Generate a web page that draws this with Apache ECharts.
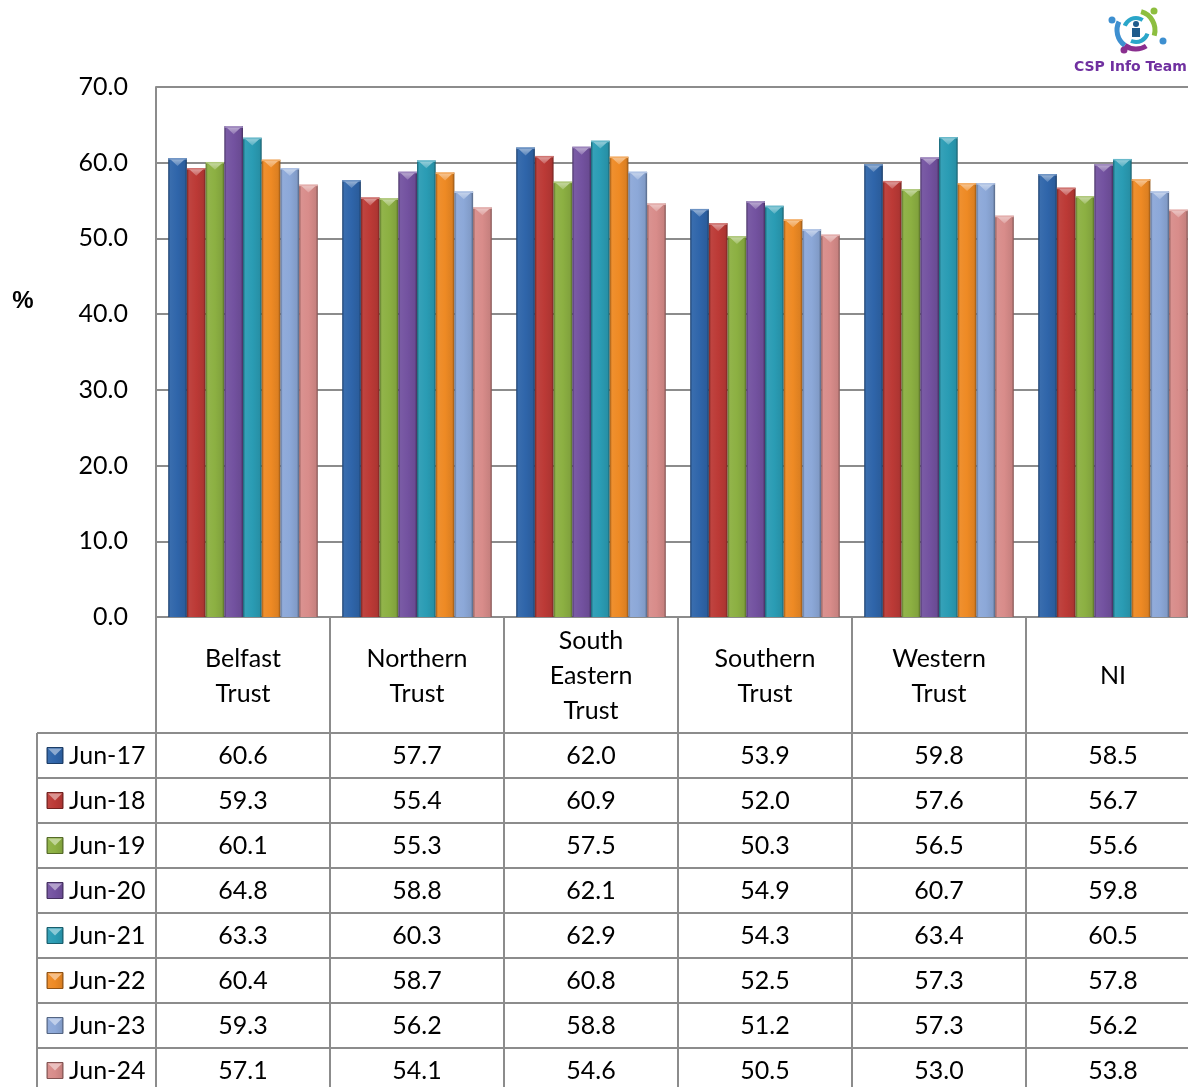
<!DOCTYPE html>
<html><head><meta charset="utf-8">
<script src="https://cdn.jsdelivr.net/npm/echarts@6/dist/echarts.min.js"></script>
<style>html,body{margin:0;padding:0;overflow:hidden;background:#fff}#c{width:1200px;height:1087px}</style>
</head><body><div id="c"></div>
<script>
const categories = ['Belfast\nTrust','Northern\nTrust','South\nEastern\nTrust','Southern\nTrust','Western\nTrust','NI'];
const periods = ['Jun-17','Jun-18','Jun-19','Jun-20','Jun-21','Jun-22','Jun-23','Jun-24'];
const jun17 = [60.6, 57.7, 62.0, 53.9, 59.8, 58.5];
const jun18 = [59.3, 55.4, 60.9, 52.0, 57.6, 56.7];
const jun19 = [60.1, 55.3, 57.5, 50.3, 56.5, 55.6];
const jun20 = [64.8, 58.8, 62.1, 54.9, 60.7, 59.8];
const jun21 = [63.3, 60.3, 62.9, 54.3, 63.4, 60.5];
const jun22 = [60.4, 58.7, 60.8, 52.5, 57.3, 57.8];
const jun23 = [59.3, 56.2, 58.8, 51.2, 57.3, 56.2];
const jun24 = [57.1, 54.1, 54.6, 50.5, 53.0, 53.8];
const seriesValues = [jun17, jun18, jun19, jun20, jun21, jun22, jun23, jun24];
const colors = ['#2F65AA','#BC3A36','#8CB042','#7352A0','#2A9CB4','#EE8A24','#8CA8D8','#D88C8A'];

function shade(hex, f){
  let r=parseInt(hex.substr(1,2),16),g=parseInt(hex.substr(3,2),16),b=parseInt(hex.substr(5,2),16);
  if(f>=0){r=r+(255-r)*f;g=g+(255-g)*f;b=b+(255-b)*f;}else{r=r*(1+f);g=g*(1+f);b=b*(1+f);}
  return 'rgb('+Math.round(r)+','+Math.round(g)+','+Math.round(b)+')';
}
const N = periods.length;
const GAPFRAC = 0.86;

function barGrad(c){
  return new echarts.graphic.LinearGradient(0,0,1,0,[
    {offset:0,color:shade(c,-0.35)},{offset:0.12,color:shade(c,0.05)},
    {offset:0.5,color:c},{offset:0.88,color:shade(c,-0.08)},{offset:1,color:shade(c,-0.4)}]);
}

function renderItem(params, api){
  const si = params.seriesIndex;
  const ci = api.value(0), v = api.value(1);
  const base = api.coord([ci, 0]);
  const top = api.coord([ci, v]);
  const cw = api.size([1,0])[0];
  const bw = cw*GAPFRAC/N;
  const x = base[0] - cw*GAPFRAC/2 + si*bw;
  const c = colors[si];
  const th = Math.min(bw*0.42, base[1]-top[1]);
  return {type:'group', children:[
    {type:'rect', shape:{x:x, y:top[1], width:bw, height:base[1]-top[1]},
     style:{fill:barGrad(c), shadowBlur:3, shadowColor:'rgba(0,0,0,0.25)', shadowOffsetX:1.5}},
    {type:'polygon', shape:{points:[[x+1,top[1]],[x+bw-1,top[1]],[x+bw/2,top[1]+th]]},
     style:{fill:new echarts.graphic.LinearGradient(0,0,0,1,[{offset:0,color:shade(c,0.55)},{offset:1,color:shade(c,0.2)}])}},
    {type:'rect', shape:{x:x, y:top[1], width:bw, height:1.5}, style:{fill:shade(c,0.3)}}
  ]};
}

const chart = echarts.init(document.getElementById('c'));
const FONT = 'Lato';
const series = seriesValues.map((vals, si) => ({
  type:'custom', name:periods[si], renderItem:renderItem,
  encode:{x:0,y:1},
  data: vals.map((v,i)=>[i,v])
}));

chart.setOption({
  animation:false,
  grid:{left:156, right:0, top:87, bottom:470, containLabel:false},
  xAxis:{type:'category', data:categories,
    axisLine:{show:true, lineStyle:{color:'#8c8c8c', width:2}},
    axisTick:{show:false}, axisLabel:{show:false}, splitLine:{show:false}},
  yAxis:{type:'value', min:0, max:70, interval:10,
    axisLine:{show:true, lineStyle:{color:'#8c8c8c', width:2}},
    axisTick:{show:false},
    axisLabel:{margin:28, fontSize:25, color:'#000', fontFamily:FONT, formatter:v=>v.toFixed(1)},
    splitLine:{lineStyle:{color:'#8c8c8c', width:2}}},
  series: series
});

// Build data table under the axis
const g = [];
const LINE = {stroke:'#8c8c8c', lineWidth:2};
const y0 = chart.convertToPixel({yAxisIndex:0}, 0);
const plotRight = 1200;
const catCenters = categories.map((c,i)=>chart.convertToPixel({xAxisIndex:0}, i));
const cw = catCenters[1]-catCenters[0];
const headerBottom = 733, rowH = 45, legLeft = 37;
const leftX = catCenters[0]-cw/2;
for(let i=0;i<=categories.length;i++){
  const x = leftX + i*cw;
  g.push({type:'line', shape:{x1:x,y1:y0,x2:x,y2:1100}, style:LINE, z:10});
}
g.push({type:'line', shape:{x1:legLeft,y1:headerBottom,x2:legLeft,y2:1100}, style:LINE, z:10});
for(let r=0;r<=N;r++){
  const y = headerBottom + r*rowH;
  g.push({type:'line', shape:{x1:legLeft,y1:y,x2:plotRight,y2:y}, style:LINE, z:10});
}
categories.forEach((c,i)=>{
  g.push({type:'text', x:catCenters[i], y:(y0+headerBottom)/2+1, z:11,
    style:{text:c, align:'center', verticalAlign:'middle', fontSize:25, lineHeight:35, fontFamily:FONT, fill:'#000'}});
});
periods.forEach((p,r)=>{
  const cy = headerBottom + r*rowH + rowH/2;
  const c = colors[r];
  const kx = 47, ks = 16;
  g.push({type:'rect', shape:{x:kx,y:cy-ks/2,width:ks,height:ks}, style:{fill:barGrad(c), stroke:shade(c,-0.4), lineWidth:1}, z:11});
  g.push({type:'polygon', shape:{points:[[kx+1,cy-ks/2+1],[kx+ks-1,cy-ks/2+1],[kx+ks/2,cy]]}, style:{fill:shade(c,0.45)}, z:12});
  g.push({type:'text', x:69, y:cy, z:11, style:{text:p, align:'left', verticalAlign:'middle', fontSize:25, fontFamily:FONT, fill:'#000'}});
  seriesValues[r].forEach((v,i)=>{
    g.push({type:'text', x:catCenters[i], y:cy, z:11, style:{text:v.toFixed(1), align:'center', verticalAlign:'middle', fontSize:25, fontFamily:FONT, fill:'#000'}});
  });
});
g.push({type:'text', x:23, y:301, style:{text:'%', align:'center', verticalAlign:'middle', fontSize:24, fontWeight:'bold', fontFamily:'Liberation Sans', fill:'#000'}});
// logo
const lx=1136, ly=30;
g.push({type:'arc', shape:{cx:lx,cy:ly,r:19,startAngle:-1.3,endAngle:0.3}, style:{stroke:'#8DBE3F',lineWidth:5,fill:null}});
g.push({type:'arc', shape:{cx:lx,cy:ly,r:19,startAngle:2.2,endAngle:3.6}, style:{stroke:'#3D8FD0',lineWidth:5,fill:null}});
g.push({type:'arc', shape:{cx:lx,cy:ly,r:19,startAngle:1.0,endAngle:2.2}, style:{stroke:'#8A2F8F',lineWidth:5,fill:null}});
g.push({type:'arc', shape:{cx:lx,cy:ly,r:12,startAngle:3.5,endAngle:5.3}, style:{stroke:'#2AA6C9',lineWidth:4,fill:null}});
g.push({type:'arc', shape:{cx:lx,cy:ly,r:12,startAngle:0.3,endAngle:2.0}, style:{stroke:'#2AA6C9',lineWidth:4,fill:null}});
g.push({type:'circle', shape:{cx:lx+18,cy:ly-19,r:3.5}, style:{fill:'#8DBE3F'}});
g.push({type:'circle', shape:{cx:lx-24,cy:ly-10,r:3.5}, style:{fill:'#3D8FD0'}});
g.push({type:'circle', shape:{cx:lx+27,cy:ly+11,r:3.5}, style:{fill:'#3D8FD0'}});
g.push({type:'circle', shape:{cx:lx-12,cy:ly+20,r:3.5}, style:{fill:'#8A2F8F'}});
g.push({type:'circle', shape:{cx:lx,cy:ly-6,r:3}, style:{fill:'#1F5C8C'}});
g.push({type:'rect', shape:{x:lx-4,y:ly-2,width:8,height:9}, style:{fill:'#1F5C8C'}});
g.push({type:'text', x:1074, y:67, style:{text:'CSP Info Team', align:'left', verticalAlign:'middle', fontSize:14, fontWeight:'bold', fontFamily:'DejaVu Sans', fill:'#7030A0'}});

chart.setOption({graphic:g});
</script>
</body></html>
